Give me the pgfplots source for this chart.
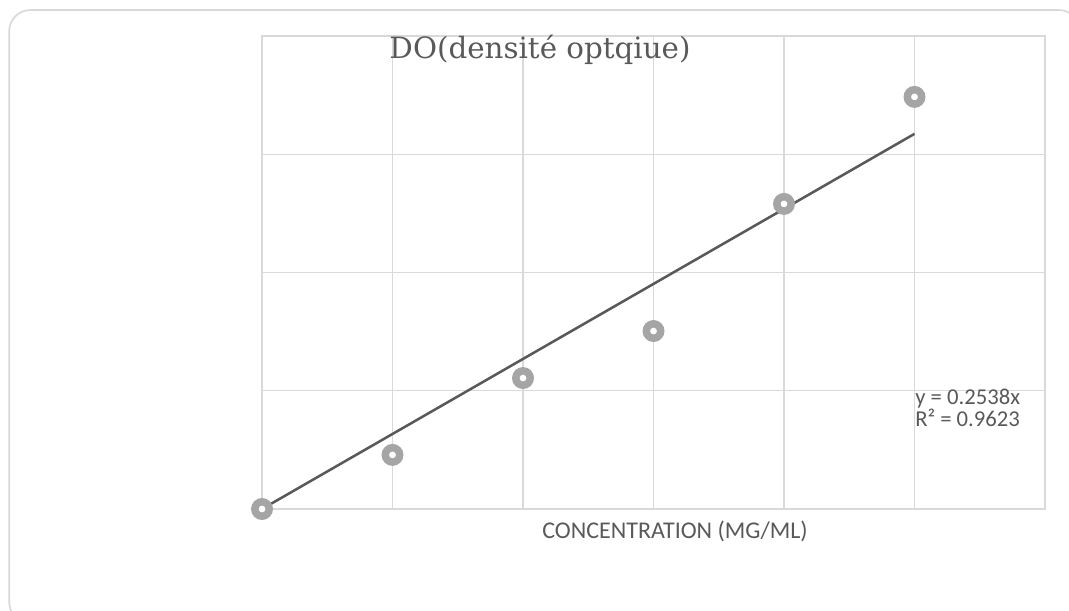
\documentclass[border=0pt]{standalone}
\usepackage{pgfplots}
\pgfplotsset{compat=1.18}
\usepackage{fontspec}
\setmainfont{Carlito}
\newfontfamily\titlefont{DejaVu Serif}
\definecolor{gridc}{HTML}{D9D9D9}
\definecolor{txtc}{HTML}{595959}
\definecolor{markc}{HTML}{A5A5A5}
\definecolor{trendc}{HTML}{595959}
\begin{document}
\begin{tikzpicture}
\useasboundingbox (0,0) rectangle (801.75pt,457.5pt);
\begin{scope}
\clip (0,0) rectangle (801.75pt,457.5pt);
\draw[gridc, line width=1.3pt, rounded corners=16pt] (6.9pt,450pt) rectangle (810pt,-10pt);
\end{scope}
\begin{axis}[
  at={(196.5pt,75.75pt)}, anchor=south west,
  scale only axis, width=587.25pt, height=354.75pt,
  xmin=0, xmax=6, ymin=0, ymax=1.6,
  xtick={0,1,2,3,4,5,6}, ytick={0,0.4,0.8,1.2,1.6},
  xticklabels={}, yticklabels={},
  major tick length=0pt,
  grid=major,
  grid style={gridc, line width=1.1pt},
  axis line style={gridc, line width=1.1pt},
  clip=false,
]
\addplot[only marks, mark=*, mark size=5.4pt, mark options={draw=markc, fill=white, line width=5.6pt}]
  coordinates {(0,0) (1,0.183) (2,0.443) (3,0.602) (4,1.032) (5,1.394)};
\addplot[trendc, line width=1.9pt] coordinates {(0,0) (5,1.269)};
\end{axis}
\node[anchor=base, text=txtc, font=\titlefont\fontsize{22}{26}\selectfont] at (405pt,413.25pt) {DO(densité optqiue)};
\node[anchor=base, text=txtc, font=\fontsize{18}{22}\selectfont] at (506.25pt,54pt) {CONCENTRATION (MG/ML)};
\node[anchor=base west, text=txtc, font=\fontsize{17}{20}\selectfont, inner sep=0pt] at (686.25pt,154pt) {y = 0.2538x};
\node[anchor=base west, text=txtc, font=\fontsize{17}{20}\selectfont, inner sep=0pt] at (686.25pt,137.5pt) {R² = 0.9623};
\end{tikzpicture}
\end{document}
